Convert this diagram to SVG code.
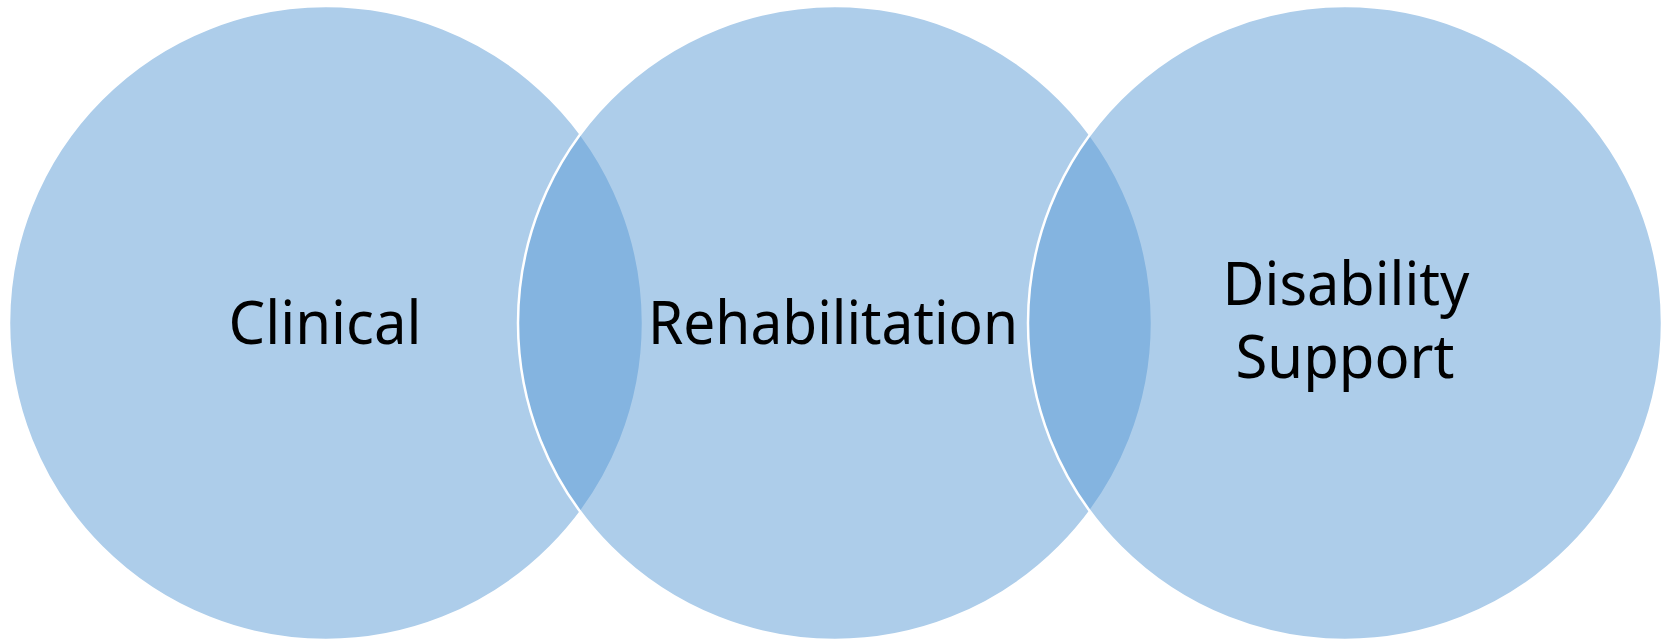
<svg xmlns="http://www.w3.org/2000/svg" width="1667" height="641" viewBox="0 0 1667 641">
<style>
.c{fill:#5B9BD5;fill-opacity:0.5;stroke:#FFFFFF;stroke-width:2.5}
.t{font-family:"Noto Sans","Open Sans",sans-serif;font-size:60px;fill:#000000;text-anchor:middle}
</style>
<rect width="1667" height="641" fill="#FFFFFF"/>
<g id="clinical">
<circle class="c" cx="326" cy="323" r="317"/>
<text class="t" x="325" y="344" textLength="193" lengthAdjust="spacingAndGlyphs">Clinical</text>
</g>
<g id="rehabilitation">
<circle class="c" cx="835" cy="323" r="317"/>
<text class="t" x="833" y="344" textLength="370" lengthAdjust="spacingAndGlyphs">Rehabilitation</text>
</g>
<g id="disability-support">
<circle class="c" cx="1345" cy="323" r="317"/>
<text class="t" x="1346" y="305" textLength="247" lengthAdjust="spacingAndGlyphs">Disability</text>
<text class="t" x="1345" y="378" textLength="219" lengthAdjust="spacingAndGlyphs">Support</text>
</g>
<g id="connectors"></g>
</svg>
